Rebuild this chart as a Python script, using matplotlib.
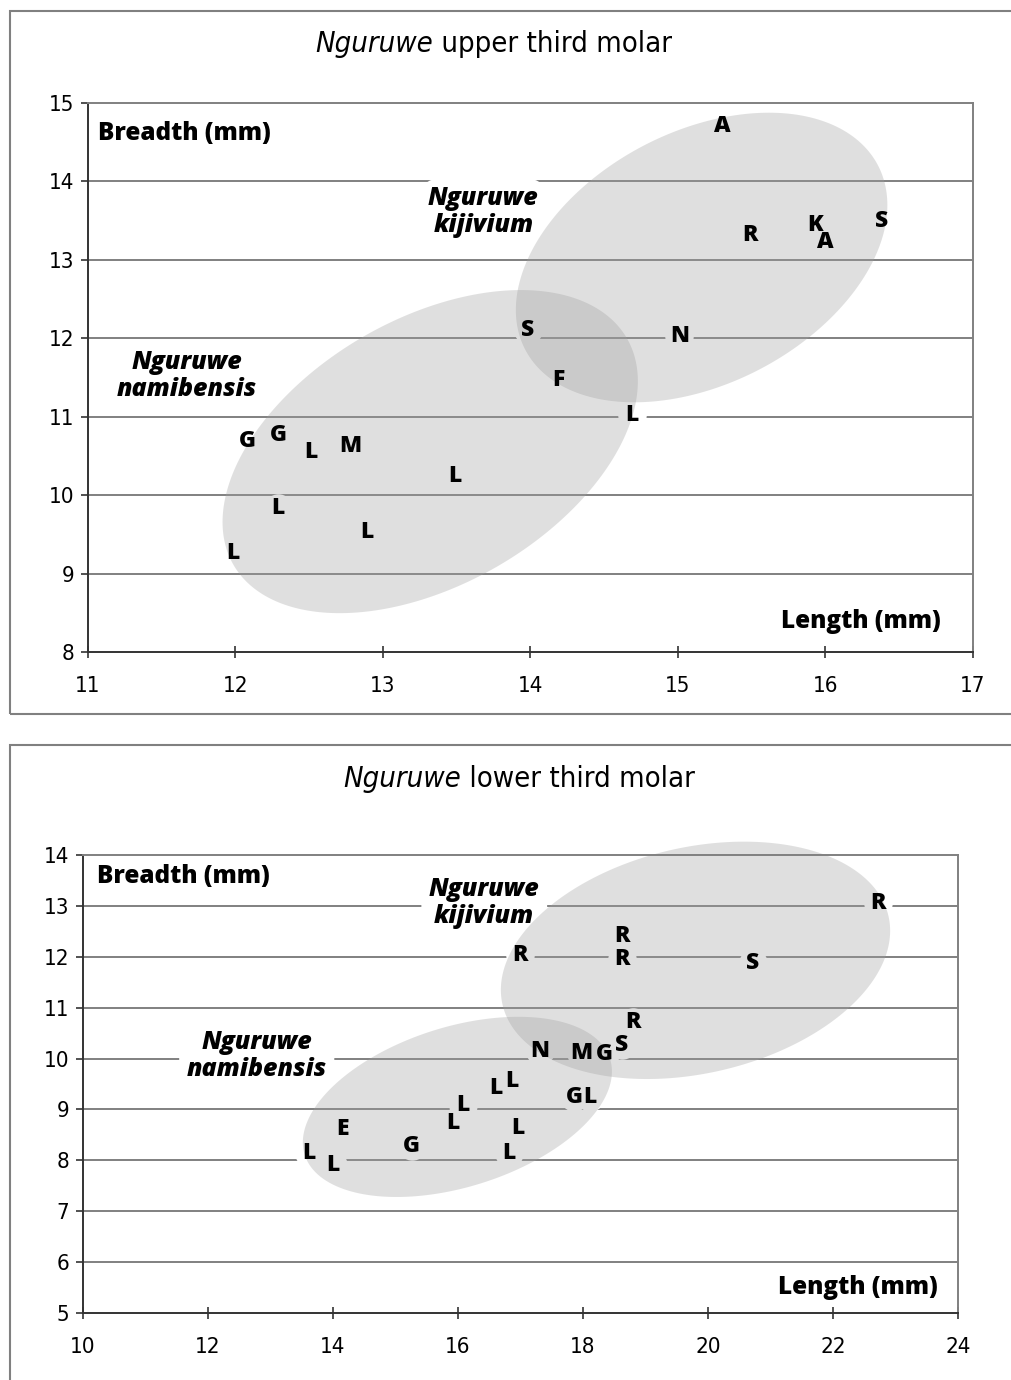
import numpy as np
import matplotlib
matplotlib.use("Agg")
import matplotlib.pyplot as plt
from matplotlib.patches import Rectangle

# ---- upper third molar ----
upper_labels = ["A", "R", "K", "A", "S", "S", "N", "F", "L",
                "G", "G", "L", "M", "L", "L", "L", "L"]
upper_length = [15.30, 15.49, 15.93, 16.00, 16.38, 13.98, 15.01, 14.19, 14.69,
                12.08, 12.29, 12.51, 12.78, 13.49, 12.29, 12.89, 11.98]
upper_breadth = [14.71, 13.32, 13.44, 13.23, 13.50, 12.10, 12.03, 11.47, 11.02,
                 10.69, 10.77, 10.55, 10.63, 10.24, 9.83, 9.53, 9.26]

# ---- lower third molar ----
lower_labels = ["R", "R", "R", "R", "S", "R", "N", "M", "G", "S",
                "L", "L", "G", "L", "L", "L", "E", "L", "G", "L", "L", "L"]
lower_length = [22.72, 18.62, 18.62, 16.99, 20.72, 18.80, 17.31, 17.97, 18.35, 18.62,
                16.61, 16.86, 17.86, 18.11, 16.08, 15.92, 14.16, 16.96, 15.26, 13.62,
                14.00, 16.82]
lower_breadth = [13.06, 12.41, 11.96, 12.04, 11.88, 10.72, 10.15, 10.11, 10.09, 10.27,
                 9.42, 9.56, 9.25, 9.25, 9.09, 8.73, 8.62, 8.64, 8.28, 8.15,
                 7.91, 8.15]

# group ellipses: centre (data), semi-axes (px), tilt (deg)
upper_groups = [(15.16, 13.03, 199, 126, 27.6), (13.32, 10.555, 227, 133, 29.9)]
lower_groups = [(19.80, 11.93, 198, 113, 12.9), (15.99, 9.05, 160, 80, 17.4)]

upper_species = [("Nguruwe\nkijivium", 13.68, 13.61), ("Nguruwe\nnamibensis", 11.67, 11.52)]
lower_species = [("Nguruwe\nkijivium", 16.42, 13.06), ("Nguruwe\nnamibensis", 12.78, 10.05)]

NARROW = ["Liberation Sans Narrow", "DejaVu Sans"]
BOLD = ["Open Sans", "DejaVu Sans"]


def draw_ellipse(ax, cx, cy, a_px, b_px, ang):
    t = np.linspace(0, 2 * np.pi, 300)
    th = np.radians(ang)
    dx = a_px * np.cos(t) * np.cos(th) - b_px * np.sin(t) * np.sin(th)
    dy = a_px * np.cos(t) * np.sin(th) + b_px * np.sin(t) * np.cos(th)
    x0, y0 = ax.transData.transform((cx, cy))
    pts = ax.transData.inverted().transform(np.column_stack([x0 + dx, y0 + dy]))
    ax.fill(pts[:, 0], pts[:, 1], color="#a0a0a0", alpha=0.33, lw=0, zorder=2,
            clip_on=False)


def panel(ax, labels, xs, ys, groups, species, xlim, ylim, xticks, yticks, lab_pos):
    ax.set_xlim(*xlim)
    ax.set_ylim(*ylim)
    ax.set_xticks(xticks)
    ax.set_yticks(yticks)
    for yv in yticks[1:-1]:
        ax.axhline(yv, color="#808080", lw=1.4, zorder=0)
    for s in ["top", "right"]:
        ax.spines[s].set_color("#808080")
        ax.spines[s].set_linewidth(1.4)
    for s in ["left", "bottom"]:
        ax.spines[s].set_color("#333333")
        ax.spines[s].set_linewidth(1.4)
    ax.tick_params(axis="x", direction="inout", length=9, width=1.2, pad=13, color="#333333")
    ax.tick_params(axis="y", direction="out", length=5, width=1.2, pad=5, color="#333333")
    for lab in ax.get_xticklabels() + ax.get_yticklabels():
        lab.set_family(NARROW)
        lab.set_stretch("condensed")
        lab.set_fontsize(16)

    # white halos behind the letters break the gridlines
    ax.scatter(xs, ys, s=420, c="white", lw=0, zorder=1)
    for l, x, y in zip(labels, xs, ys):
        ax.text(x, y, l, ha="center", va="center", fontsize=16.5, fontweight=800,
                family=BOLD, color="black", zorder=4)
    for name, x, y in species:
        ax.text(x, y, name, ha="center", va="center", fontsize=18, fontweight=800,
                style="italic", family=BOLD, linespacing=1.1, zorder=1.5,
                bbox=dict(boxstyle="round,pad=0.3,rounding_size=0.8", fc="white", ec="none"))
    for g in groups:
        draw_ellipse(ax, *g)
    (bx, by), (lx, ly) = lab_pos
    ax.text(bx, by, "Breadth (mm)", transform=ax.transAxes, ha="left", va="center",
            fontsize=17.5, fontweight=800, family=BOLD, zorder=5)
    ax.text(lx, ly, "Length (mm)", transform=ax.transAxes, ha="right", va="center",
            fontsize=17.5, fontweight=800, family=BOLD, zorder=5)


fig = plt.figure(figsize=(10.12, 13.8), dpi=100)

# outer panel frames
fig.patches.append(Rectangle((10 / 1012, 1 - 714 / 1380), 1.1, 703 / 1380,
                             transform=fig.transFigure, fill=False, ec="#808080", lw=1.5))
fig.patches.append(Rectangle((10 / 1012, -0.05), 1.1, 1 - 745 / 1380 + 0.05,
                             transform=fig.transFigure, fill=False, ec="#808080", lw=1.5))

ax1 = fig.add_axes([88 / 1012, 1 - 652 / 1380, 885 / 1012, 549 / 1380])
panel(ax1, upper_labels, upper_length, upper_breadth, upper_groups, upper_species,
      (11, 17), (8, 15), range(11, 18), range(8, 16),
      ((0.011, 0.945), (0.964, 0.055)))

ax2 = fig.add_axes([83 / 1012, 1 - 1313 / 1380, 875 / 1012, 458 / 1380])
panel(ax2, lower_labels, lower_length, lower_breadth, lower_groups, lower_species,
      (10, 24), (5, 14), range(10, 25, 2), range(5, 15),
      ((0.016, 0.952), (0.977, 0.055)))

# titles: italic genus + plain rest, centred as one line
renderer = fig.canvas.get_renderer()
for y, rest, xc in [(44, "upper third molar", 494), (779, "lower third molar", 519)]:
    t1 = fig.text(0, 1 - y / 1380, "Nguruwe", style="italic", ha="left",
                  va="center", fontsize=21, family=NARROW, stretch="condensed")
    t2 = fig.text(0, 1 - y / 1380, " " + rest, ha="left", va="center",
                  fontsize=21, family=NARROW, stretch="condensed")
    w1 = t1.get_window_extent(renderer).width
    w2 = t2.get_window_extent(renderer).width
    left = xc - (w1 + w2) / 2
    t1.set_x(left / 1012)
    t2.set_x((left + w1) / 1012)

fig.savefig("out.png", dpi=100)
